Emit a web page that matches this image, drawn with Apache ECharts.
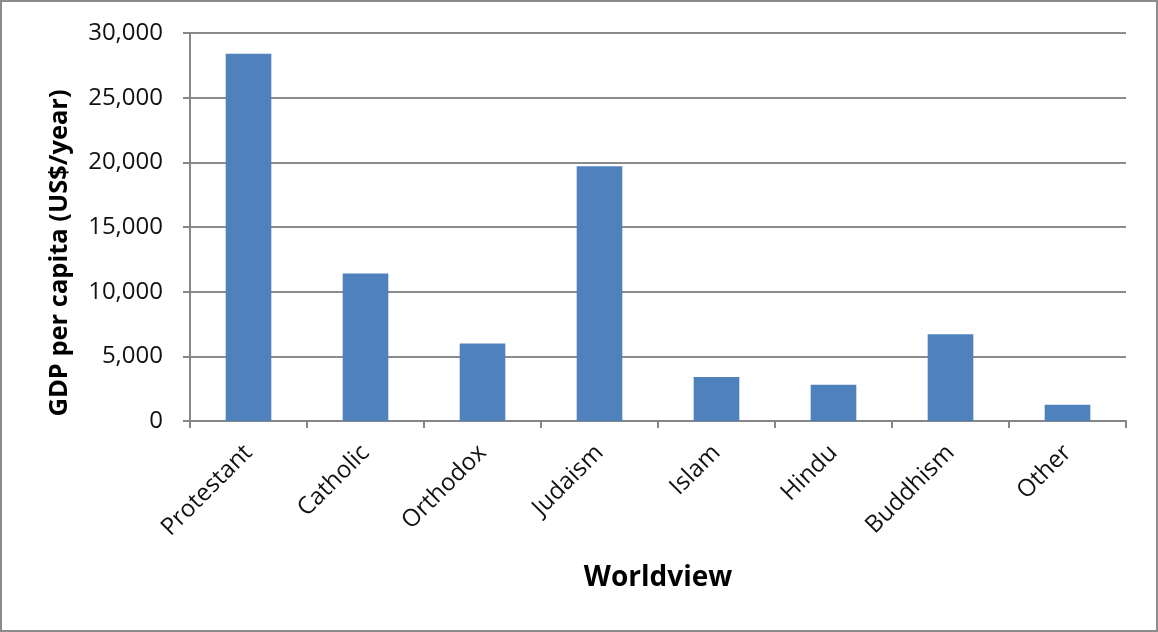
<!DOCTYPE html>
<html>
<head>
<meta charset="utf-8">
<script src="https://cdn.jsdelivr.net/npm/echarts@6/dist/echarts.min.js"></script>
<style>
html,body{margin:0;padding:0;background:#fff;}
#wrap{position:absolute;left:0;top:0;width:1154px;height:628px;border:2px solid #8c8c8c;}
#chart{width:1154px;height:628px;}
</style>
</head>
<body>
<div id="wrap"><div id="chart"></div></div>
<script>
const categories = ["Protestant","Catholic","Orthodox","Judaism","Islam","Hindu","Buddhism","Other"];
const gdpPerCapita = [28400, 11400, 6000, 19700, 3400, 2800, 6700, 1250];
const yTicks = {min: 0, max: 30000, interval: 5000};
const xTitle = "Worldview";
const yTitle = "GDP per capita (US$/year)";

const FONT = "'Open Sans', 'Noto Sans', sans-serif";
const chart = echarts.init(document.getElementById('chart'), null, {renderer: 'canvas'});
chart.setOption({
  animation: false,
  backgroundColor: '#ffffff',
  grid: {left: 188, right: 30, top: 31, bottom: 209, containLabel: false},
  xAxis: {
    type: 'category',
    data: categories,
    name: xTitle,
    nameLocation: 'middle',
    nameGap: 143,
    nameTextStyle: {fontFamily: FONT, fontWeight: 'bold', fontSize: 28, color: '#000'},
    axisLine: {lineStyle: {color: '#868686', width: 2}},
    axisTick: {show: true, alignWithLabel: false, length: 7, lineStyle: {color: '#868686', width: 2}},
    axisLabel: {rotate: 45, fontFamily: FONT, fontSize: 24, color: '#111', margin: 28, interval: 0}
  },
  yAxis: {
    type: 'value',
    min: yTicks.min, max: yTicks.max, interval: yTicks.interval,
    name: yTitle,
    nameLocation: 'middle',
    nameGap: 117,
    nameRotate: 90,
    nameTextStyle: {fontFamily: FONT, fontWeight: 'bold', fontSize: 25.5, color: '#000', padding: [0, 52, 0, 0]},
    axisLine: {show: true, lineStyle: {color: '#868686', width: 2}},
    axisTick: {show: true, length: 7, lineStyle: {color: '#868686', width: 2}},
    axisLabel: {fontFamily: FONT, fontSize: 24, color: '#111', margin: 27,
      formatter: v => v.toLocaleString('en-US')},
    splitLine: {show: true, lineStyle: {color: '#8c8c8c', width: 2}}
  },
  series: [{
    type: 'bar',
    data: gdpPerCapita,
    barWidth: '39%',
    itemStyle: {color: '#4f81bd'}
  }]
});
</script>
</body>
</html>
